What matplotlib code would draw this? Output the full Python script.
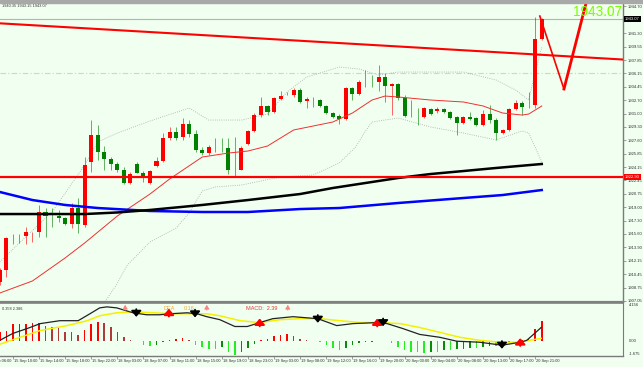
import matplotlib
matplotlib.use("Agg")
import matplotlib.pyplot as plt
import matplotlib.transforms as mtransforms
from matplotlib.patches import Rectangle

# hourly candles, index 0..83 (red = up, green = down)
opens = [1909.46, 1911.00, 1915.15, 1915.15, 1915.34, 1915.80, 1915.85, 1918.41, 1917.93, 1917.90,
         1917.64, 1916.88, 1918.92, 1916.75, 1924.80, 1928.26, 1926.08, 1925.19, 1924.55, 1923.78,
         1922.12, 1924.55, 1923.40, 1922.12, 1924.29, 1924.93, 1927.87, 1928.64, 1928.00, 1929.66,
         1928.38, 1926.34, 1925.95, 1926.75, 1926.75, 1926.59, 1924.00, 1923.78, 1927.11, 1928.77,
         1930.81, 1931.97, 1931.20, 1932.86, 1933.65, 1933.37, 1934.01, 1932.60, 1932.76, 1932.73,
         1931.97, 1931.07, 1930.69, 1930.30, 1934.27, 1933.50, 1935.00, 1935.19, 1935.03, 1935.67,
         1934.52, 1934.78, 1932.99, 1930.72, 1930.72, 1930.56, 1931.58, 1931.33, 1931.58, 1931.20,
         1930.56, 1929.79, 1930.56, 1930.43, 1929.54, 1930.94, 1930.17, 1928.51, 1928.90, 1931.58,
         1932.35, 1931.80, 1932.09, 1940.53]
highs = [1911.25, 1915.21, 1915.60, 1915.60, 1916.49, 1915.90, 1919.31, 1918.92, 1918.92, 1918.67,
         1917.77, 1919.56, 1920.20, 1925.50, 1930.17, 1929.54, 1926.85, 1925.44, 1924.80, 1924.16,
         1923.52, 1924.80, 1923.65, 1923.78, 1925.44, 1928.51, 1929.28, 1929.28, 1930.43, 1930.17,
         1928.90, 1926.72, 1926.98, 1927.87, 1927.87, 1927.87, 1928.00, 1926.85, 1928.90, 1931.07,
         1933.12, 1932.09, 1933.12, 1933.88, 1933.76, 1934.27, 1934.27, 1933.12, 1933.12, 1932.86,
         1932.09, 1931.20, 1930.94, 1934.39, 1934.39, 1935.29, 1936.57, 1935.93, 1937.21, 1936.18,
         1934.91, 1934.91, 1933.37, 1932.73, 1931.71, 1931.84, 1931.71, 1931.84, 1931.71, 1931.33,
         1930.69, 1930.69, 1931.20, 1930.56, 1931.45, 1932.09, 1930.43, 1929.03, 1931.71, 1932.73,
         1932.60, 1933.76, 1943.35, 1943.22]
lows = [1909.08, 1910.10, 1914.32, 1914.45, 1914.32, 1914.57, 1915.21, 1915.21, 1916.49, 1917.13,
        1916.75, 1916.36, 1915.72, 1916.49, 1923.52, 1925.06, 1923.78, 1923.78, 1923.52, 1921.99,
        1921.99, 1923.40, 1922.25, 1921.99, 1924.16, 1924.80, 1927.62, 1927.62, 1927.62, 1928.00,
        1926.08, 1925.70, 1925.70, 1926.08, 1926.08, 1923.27, 1923.01, 1923.78, 1926.98, 1928.64,
        1930.56, 1930.81, 1931.07, 1932.73, 1933.37, 1933.12, 1932.35, 1931.71, 1931.84, 1931.84,
        1930.94, 1930.43, 1929.66, 1930.17, 1932.73, 1933.37, 1934.39, 1934.39, 1933.88, 1932.48,
        1930.81, 1932.73, 1930.56, 1930.56, 1929.54, 1930.43, 1930.81, 1931.07, 1931.07, 1930.30,
        1928.26, 1929.66, 1930.17, 1929.41, 1929.41, 1929.79, 1927.62, 1928.38, 1928.77, 1931.45,
        1930.81, 1931.71, 1931.71, 1940.40]
closes = [1911.00, 1915.09, 1915.21, 1915.21, 1915.85, 1915.85, 1918.41, 1917.90, 1917.88, 1917.64,
          1916.88, 1918.92, 1916.88, 1924.42, 1928.26, 1926.08, 1925.19, 1924.55, 1923.78, 1922.12,
          1923.27, 1923.40, 1923.01, 1923.65, 1924.93, 1927.87, 1928.64, 1927.87, 1929.66, 1928.38,
          1926.34, 1925.95, 1926.72, 1926.70, 1926.68, 1923.78, 1924.04, 1926.59, 1928.77, 1930.81,
          1931.97, 1931.20, 1932.99, 1933.24, 1933.60, 1934.01, 1932.48, 1932.86, 1932.70, 1931.97,
          1931.07, 1930.56, 1930.30, 1934.27, 1933.50, 1935.03, 1935.03, 1935.13, 1935.67, 1934.52,
          1934.78, 1932.99, 1930.69, 1930.66, 1930.66, 1931.71, 1930.94, 1931.58, 1931.20, 1930.43,
          1929.79, 1930.56, 1930.30, 1929.54, 1930.94, 1930.17, 1928.51, 1928.90, 1931.58, 1932.35,
          1931.84, 1931.84, 1940.53, 1943.07]

# moving averages / bollinger bands (candle index, price)
blue_idx = [0, 5, 10, 15, 23, 31, 38, 46, 52, 61, 71, 77, 83]
blue_val = [1920.97, 1919.94, 1919.31, 1918.92, 1918.54, 1918.41, 1918.41, 1918.79, 1918.92,
            1919.56, 1920.20, 1920.58, 1921.22]
black_idx = [0, 8, 13, 18, 23, 31, 38, 46, 51, 56, 61, 66, 71, 76, 83]
black_val = [1918.15, 1918.15, 1918.15, 1918.35, 1918.67, 1919.31, 1919.94, 1920.71, 1921.48,
             1922.12, 1922.76, 1923.27, 1923.65, 1924.04, 1924.55]
mid_idx = [0, 5, 10, 13, 18, 23, 26, 31, 35, 38, 41, 45, 51, 54, 57, 59, 61, 66, 71, 74, 77, 80, 81, 83]
mid_val = [1908.05, 1909.59, 1912.53, 1914.45, 1917.90, 1920.71, 1922.63, 1925.44, 1925.95, 1926.21,
           1926.85, 1928.90, 1929.92, 1931.07, 1932.73, 1933.24, 1933.12, 1932.73, 1932.48, 1931.97,
           1931.07, 1930.81, 1930.94, 1931.97]
upper_idx = [0, 3, 8, 13, 15, 18, 23, 29, 32, 37, 41, 44, 47, 52, 55, 58, 61, 66, 71, 76, 79, 81, 82, 83]
upper_val = [1912.02, 1914.45, 1918.41, 1924.42, 1927.36, 1928.51, 1930.05, 1931.71, 1930.17, 1930.17,
             1930.94, 1933.76, 1935.67, 1936.95, 1936.70, 1935.93, 1936.31, 1936.31, 1936.31, 1935.29,
             1934.01, 1932.73, 1936.31, 1939.51]
lower_idx = [14.5, 16.3, 18, 19.5, 23, 27, 29, 31, 33, 37, 43, 48, 52, 54.5, 56, 57, 61, 66, 71, 76, 80, 81, 83]
lower_val = [1904.50, 1907.16, 1909.30, 1911.60, 1914.57, 1916.36, 1918.28, 1921.10, 1921.61, 1921.86,
             1922.89, 1923.14, 1924.68, 1926.72, 1928.77, 1929.92, 1930.43, 1929.28, 1928.51, 1927.62,
             1928.77, 1928.51, 1924.80]

trend_idx = [0.03, 95.44]
trend_val = [1942.54, 1937.91]
zig_idx = [82.7, 86.4, 89.9]
zig_val = [1943.47, 1934.14, 1945.52]
support = 1922.90
alert = 1936.15
bid = 1943.07

price_ticks = [1944.70, 1941.30, 1939.55, 1937.85, 1936.15, 1934.45, 1932.70, 1931.00, 1929.30,
               1927.60, 1925.85, 1924.15, 1922.45, 1920.75, 1919.00, 1917.30, 1915.60, 1913.90,
               1912.15, 1910.45, 1908.75, 1907.05]

# MACD panel
hist = [1.00, 1.06, 1.80, 1.86, 1.90, 1.93, 1.95, 1.67, 1.49, 1.42, 0.95, 0.93, 0.59, 1.21, 1.86,
        2.03, 1.92, 1.49, 0.95, 0.41, 0.05, -0.05, -0.49, -0.52, -0.49, -0.13, 0.13, 0.16, 0.30, 0.05,
        -0.49, -0.67, -0.85, -0.90, -0.67, -1.21, -1.57, -1.21, -0.74, -0.31, 0.13, 0.23, 0.52, 0.67,
        0.70, 0.49, 0.23, 0.05, 0.02, -0.13, -0.49, -0.74, -1.03, -0.74, -0.49, -0.20, -0.13, -0.09,
        0.02, -0.05, -0.23, -0.67, -1.03, -1.21, -1.25, -1.31, -1.21, -1.21, -1.03, -1.03, -0.95,
        -0.85, -0.74, -0.74, -0.67, -0.60, -0.60, -0.38, -0.13, 0.02, 0.13, 0.23, 1.31, 2.21]
macd_idx = [0, 2, 4.2, 6.2, 9.2, 12, 13.8, 15.3, 16.4, 17.9, 20.4, 22.5, 24.5, 26, 28.7, 30.2, 31.7,
            33.7, 36, 37.9, 39.8, 41.8, 44.9, 48.7, 51.6, 54.1, 57.8, 59.3, 61.7, 64.3, 67.4, 70,
            73.5, 76.9, 79.7, 80.7, 81.9, 82.9]
macd_val = [0.05, 0.81, 1.35, 1.89, 2.21, 2.21, 2.97, 3.62, 3.73, 3.62, 3.08, 2.86, 2.86, 2.97, 3.08,
            2.97, 2.65, 2.32, 1.57, 1.57, 2.00, 2.43, 2.65, 2.43, 1.67, 1.89, 2.00, 1.89, 1.35, 0.70,
            0.38, -0.05, -0.16, -0.49, -0.16, 0.05, 0.81, 1.46]
signal_idx = [0, 3.1, 6.2, 10.3, 13.4, 15.3, 17.9, 20.4, 23.5, 26.5, 29.6, 31.7, 33.7, 36.8, 39.8,
              42.9, 46, 49, 52.1, 55.2, 58.2, 61.3, 64.3, 67.4, 70.5, 73.5, 76.6, 79.7, 81.2, 82.9]
signal_val = [-0.38, 0.38, 1.13, 1.67, 2.21, 2.75, 3.08, 3.19, 3.08, 2.97, 2.97, 2.97, 2.75, 2.21,
              2.00, 2.32, 2.43, 2.43, 2.21, 2.00, 2.00, 1.89, 1.46, 0.92, 0.38, 0.05, -0.16, -0.16,
              0.05, 0.27]
up_idx = [25.9, 39.8, 57.8, 79.7]
up_val = [3.08, 2.00, 2.00, -0.16]
down_idx = [20.9, 29.9, 48.7, 58.7, 76.9]
down_val = [3.08, 3.02, 2.43, 2.05, -0.43]
small_up_idx = [19.2, 31.7, 44.1]
small_up_val = [3.65, 3.65, 3.65]

time_idx = [-2 + 4 * k for k in range(22)]
time_labels = ["15 Sep 06:00", "15 Sep 10:00", "15 Sep 14:00", "15 Sep 18:00", "15 Sep 22:00",
               "18 Sep 03:00", "18 Sep 07:00", "18 Sep 11:00", "18 Sep 15:00", "18 Sep 19:00",
               "18 Sep 23:00", "19 Sep 03:00", "19 Sep 08:00", "19 Sep 12:00", "19 Sep 16:00",
               "19 Sep 20:00", "20 Sep 00:00", "20 Sep 04:00", "20 Sep 08:00", "20 Sep 13:00",
               "20 Sep 17:00", "20 Sep 21:00"]

bg = "#f0fff0"
small = ["Liberation Sans Narrow", "Liberation Sans", "DejaVu Sans"]
axis_gray = "#7a7a7a"

fig = plt.figure(figsize=(6.43, 3.67), dpi=100, facecolor=bg)
fig.patches.append(Rectangle((0, 1 - 3 / 367), 1, 3 / 367, transform=fig.transFigure,
                             color="#a8a8a8", zorder=0))
ax = fig.add_axes([0, 1 - 302 / 367, 623 / 643, 299 / 367], facecolor=bg)
ax2 = fig.add_axes([0, 1 - 356 / 367, 623 / 643, 53 / 367], facecolor=bg)
xlim = (0.03, 95.44)

# --- main price panel ---
for i in range(len(opens)):
    up = closes[i] >= opens[i]
    col = "#ff0000" if up else "#008000"
    ax.vlines(i, lows[i], highs[i], color=col, lw=0.6, alpha=0.7, zorder=3)
    body = max(abs(closes[i] - opens[i]), 0.07)
    ax.bar(i, body, bottom=min(opens[i], closes[i]), width=0.62, color=col, lw=0, zorder=4)

ax.plot(upper_idx, upper_val, color="#a9a9a9", lw=0.6, ls=":", zorder=2)
ax.plot(lower_idx, lower_val, color="#a9a9a9", lw=0.6, ls=":", zorder=2)
ax.plot(mid_idx, mid_val, color="#f03030", lw=0.7, zorder=5)
ax.plot(blue_idx, blue_val, color="#0000ff", lw=1.8, zorder=5)
ax.plot(black_idx, black_val, color="#000000", lw=1.8, zorder=5)
ax.axhline(support, color="#ff0000", lw=1.6, zorder=5)
ax.axhline(alert, color="#b8e4b8", lw=0.8, ls=(0, (5, 2, 1, 2)), zorder=1)
ax.axhline(bid, color="#b4b4b4", lw=0.8, zorder=1)
ax.plot(trend_idx, trend_val, color="#ff0000", lw=1.5, zorder=6)
ax.plot(zig_idx[:2], zig_val[:2], color="#ff0000", lw=1.2, zorder=6)
ax.plot(zig_idx[1:], zig_val[1:], color="#ff0000", lw=2.0, zorder=6)

ax.set_xlim(*xlim)
ax.set_ylim(1906.90, 1945.14)
ax.set_xticks([])
ax.yaxis.tick_right()
ax.set_yticks(price_ticks)
ax.set_yticklabels([f"{v:.2f}" for v in price_ticks], fontsize=3, family=small, color="#303030")
ax.tick_params(axis="y", length=2, width=0.5, pad=1.2, color=axis_gray)
for s in ["left", "top"]:
    ax.spines[s].set_visible(False)
ax.spines["right"].set_color(axis_gray)
ax.spines["right"].set_linewidth(1.0)
ax.spines["bottom"].set_color("#808080")
ax.spines["bottom"].set_linewidth(1.6)

trans = mtransforms.blended_transform_factory(ax.transAxes, ax.transData)
ax.text(1.003, bid, f"{bid:.2f}", transform=trans, fontsize=3, family=small, color="white",
        va="center", ha="left", bbox=dict(facecolor="black", edgecolor="none", pad=0.8), zorder=10)
ax.text(1.003, support, f"{support:.2f}", transform=trans, fontsize=3, family=small, color="white",
        va="center", ha="left", bbox=dict(facecolor="#ff0000", edgecolor="none", pad=0.8), zorder=10)
ax.text(0.998, 0.97, f"{bid:.2f}", transform=ax.transAxes, fontsize=9.8, family="Liberation Sans",
        color="#7cfc00", ha="right", va="center", zorder=10)
ax.text(0.003, 0.995, "1940.35 1943.15 1943.07", transform=ax.transAxes, fontsize=2.8,
        family=small, color="#303030", ha="left", va="top")

# --- MACD panel ---
hist_colors = []
for i, v in enumerate(hist):
    prev = hist[i - 1] if i > 0 else v
    if v >= 0:
        hist_colors.append("#ff0000" if v >= prev else "#b03a3a")
    else:
        hist_colors.append("#22ee22" if v <= prev else "#0a8a0a")
ax2.bar(range(len(hist)), hist, width=0.24, color=hist_colors, lw=0, zorder=2)
ax2.plot(signal_idx, signal_val, color="#f5f000", lw=1.1, zorder=3)
ax2.plot(macd_idx, macd_val, color="#222222", lw=0.9, zorder=4)

for x, v in zip(up_idx, up_val):
    ax2.annotate("", xy=(x, v + 0.45), xytext=(x, v - 0.4),
                 arrowprops=dict(arrowstyle="-|>,head_width=0.3,head_length=0.35", color="#ff0000",
                                 lw=1.5, shrinkA=0, shrinkB=0), zorder=6)
for x, v in zip(down_idx, down_val):
    ax2.annotate("", xy=(x, v - 0.45), xytext=(x, v + 0.4),
                 arrowprops=dict(arrowstyle="-|>,head_width=0.3,head_length=0.35", color="#000000",
                                 lw=1.3, shrinkA=0, shrinkB=0), zorder=6)
for x, v in zip(small_up_idx, small_up_val):
    ax2.annotate("", xy=(x, v + 0.3), xytext=(x, v - 0.3),
                 arrowprops=dict(arrowstyle="-|>,head_width=0.15,head_length=0.25", color="#ff8080",
                                 lw=0.6, shrinkA=0, shrinkB=0), zorder=6)

ax2.set_xlim(*xlim)
ax2.set_ylim(-1.675, 4.156)
ax2.set_yticks([])
for s in ["left", "top"]:
    ax2.spines[s].set_visible(False)
ax2.spines["right"].set_color(axis_gray)
ax2.spines["bottom"].set_color(axis_gray)
ax2.spines["bottom"].set_linewidth(1.0)
ax2.plot([0, 1], [1.0, 1.0], transform=ax2.transAxes, color="#808080", lw=1.2, clip_on=False)

ax2.text(1.01, 4.156, "4.156", transform=mtransforms.blended_transform_factory(ax2.transAxes, ax2.transData),
         fontsize=3, family=small, color="#303030", va="top", ha="left")
ax2.text(1.01, 0.0, "0.00", transform=mtransforms.blended_transform_factory(ax2.transAxes, ax2.transData),
         fontsize=3, family=small, color="#303030", va="center", ha="left")
ax2.text(1.01, -1.675, "-1.675", transform=mtransforms.blended_transform_factory(ax2.transAxes, ax2.transData),
         fontsize=3, family=small, color="#303030", va="bottom", ha="left")
ax2.text(0.003, 0.93, "0.358 2.386", transform=ax2.transAxes, fontsize=2.8, family=small,
         color="#303030", va="top", ha="left")
ax2.text(246 / 623, 0.9, "MACD:  2.39", transform=ax2.transAxes, fontsize=4, family=small,
         color="#e03c3c", va="center", ha="left")
ax2.text(163 / 623, 0.9, "DEA", transform=ax2.transAxes, fontsize=4, family=small,
         color="#f0a830", va="center", ha="left")
ax2.text(184 / 623, 0.9, "0.16", transform=ax2.transAxes, fontsize=4, family=small,
         color="#f0a830", va="center", ha="left")

ax2.set_xticks([t for t in time_idx if t >= xlim[0]])
ax2.set_xticklabels([])
ax2.tick_params(axis="x", length=2, width=0.5, color=axis_gray)
xtrans = mtransforms.blended_transform_factory(ax2.transData, ax2.transAxes)
for t, lab in zip(time_idx, time_labels):
    ax2.text(t + 0.15, -0.05, lab, transform=xtrans, fontsize=2.9, family=small, color="#303030",
             va="top", ha="left", clip_on=False)

fig.savefig("out.png", dpi=100, facecolor=bg)
